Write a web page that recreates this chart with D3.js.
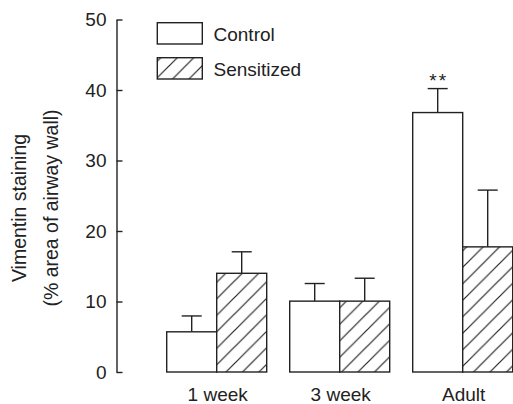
<!DOCTYPE html>
<html>
<head>
<meta charset="utf-8">
<script src="https://cdn.jsdelivr.net/npm/d3@7"></script>
<style>
  html, body { margin: 0; padding: 0; background: #fff; }
  svg { display: block; }
  text { font-family: "Liberation Sans", Arial, sans-serif; fill: #222; }
</style>
</head>
<body>
<svg id="chart" width="513" height="404"></svg>
<script>
const categories = ["1 week", "3 week", "Adult"];
const seriesNames = ["Control", "Sensitized"];
const controlMean = [5.7, 10.05, 36.8];
const controlErr  = [2.25, 2.5, 3.4];
const sensMean    = [14.0, 10.05, 17.75];
const sensErr     = [3.05, 3.25, 8.05];
const yTicks = [0, 10, 20, 30, 40, 50];
const annotations = [{ cat: "Adult", series: "Control", text: "**" }];

const svg = d3.select("#chart");
const ink = "#222";
const sw = 1.4;

const y = d3.scaleLinear().domain([0, 50]).range([372, 19.5]);
const x0 = d3.scaleBand().domain(categories).range([166.7, 512.7]).paddingInner(0.187).paddingOuter(0);
const x1 = d3.scaleBand().domain(seriesNames).range([0, x0.bandwidth()]).padding(0);

// hatch pattern
const defs = svg.append("defs");
const pat = defs.append("pattern")
  .attr("id", "hatch")
  .attr("patternUnits", "userSpaceOnUse")
  .attr("width", 16.5).attr("height", 16.5)
  .attr("patternTransform", "translate(4,0)");
pat.append("rect").attr("width", 16.5).attr("height", 16.5).attr("fill", "#fff");
pat.append("path")
  .attr("d", "M-4,20.5 L20.5,-4 M-4,4 L4,-4 M12.5,20.5 L20.5,12.5")
  .attr("stroke", ink).attr("stroke-width", 1.2);

// y axis
const yAxis = d3.axisLeft(y).tickValues(yTicks).tickSize(-6).tickPadding(10).tickSizeOuter(0);
const gy = svg.append("g").attr("transform", "translate(116.5,0)").call(yAxis);
gy.select(".domain").attr("stroke", ink).attr("stroke-width", sw);
gy.selectAll(".tick line").attr("stroke", ink).attr("stroke-width", sw);
gy.selectAll(".tick text").attr("font-size", 19).attr("fill", ink)
  .attr("font-family", "Liberation Sans, Arial, sans-serif");

// y label
const yl = svg.append("text").attr("transform", "translate(0,208) rotate(-90)")
  .attr("text-anchor", "middle").attr("font-size", 19.5);
yl.append("tspan").attr("x", 0).attr("y", 26).text("Vimentin staining");
yl.append("tspan").attr("x", 0).attr("y", 58).text("(% area of airway wall)");

// data rows
const rows = [];
categories.forEach((c, i) => {
  rows.push({ cat: c, series: "Control", mean: controlMean[i], err: controlErr[i] });
  rows.push({ cat: c, series: "Sensitized", mean: sensMean[i], err: sensErr[i] });
});

const bx = d => x0(d.cat) + x1(d.series);
const cx = d => bx(d) + x1.bandwidth() / 2;

// error bars (upper only)
const eb = svg.append("g");
eb.selectAll("line.v").data(rows).join("line")
  .attr("x1", cx).attr("x2", cx)
  .attr("y1", d => y(d.mean)).attr("y2", d => y(d.mean + d.err))
  .attr("stroke", ink).attr("stroke-width", sw);
eb.selectAll("line.cap").data(rows).join("line")
  .attr("x1", d => cx(d) - 10).attr("x2", d => cx(d) + 10)
  .attr("y1", d => y(d.mean + d.err)).attr("y2", d => y(d.mean + d.err))
  .attr("stroke", ink).attr("stroke-width", sw);

// bars
svg.append("g").selectAll("rect").data(rows).join("rect")
  .attr("x", bx).attr("width", x1.bandwidth())
  .attr("y", d => y(d.mean)).attr("height", d => y(0) - y(d.mean))
  .attr("fill", d => d.series === "Control" ? "#fff" : "url(#hatch)")
  .attr("stroke", ink).attr("stroke-width", sw);

// annotations
annotations.forEach(a => {
  const r = rows.find(d => d.cat === a.cat && d.series === a.series);
  svg.append("text").attr("x", cx(r) + 1).attr("y", y(r.mean + r.err) - 2)
    .attr("text-anchor", "middle").attr("font-size", 19).attr("letter-spacing", 2).text(a.text);
});

// x labels
svg.append("g").selectAll("text").data(categories).join("text")
  .attr("x", d => x0(d) + x0.bandwidth() / 2 + 1).attr("y", 401)
  .attr("text-anchor", "middle").attr("font-size", 19).text(d => d);

// legend
const leg = svg.append("g");
const legY = [22.7, 57.7];
seriesNames.forEach((s, i) => {
  leg.append("rect").attr("x", 157.3).attr("y", legY[i]).attr("width", 45).attr("height", 21.3)
    .attr("fill", s === "Control" ? "#fff" : "url(#hatch)")
    .attr("stroke", ink).attr("stroke-width", sw);
  leg.append("text").attr("x", 213.5).attr("y", legY[i] + 18.3).attr("font-size", 19).text(s);
});
</script>
</body>
</html>
